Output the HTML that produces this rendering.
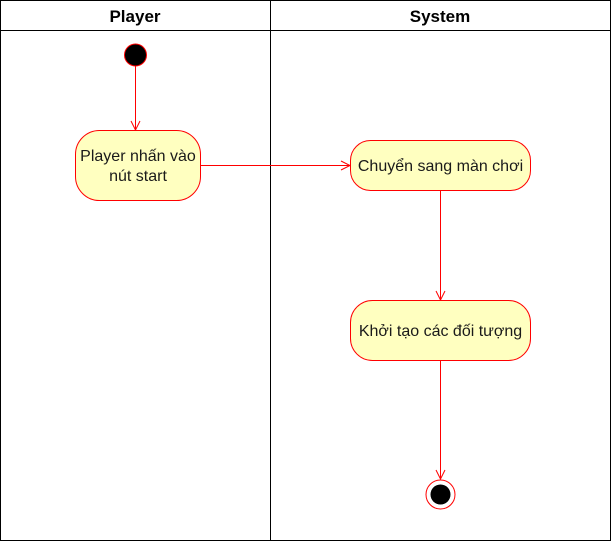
<!DOCTYPE html>
<html><head><style>body{margin:0;background:#fff}svg{display:block}</style></head><body>
<svg width="612" height="541" viewBox="0 0 612 541" font-family="Liberation Sans, sans-serif">
<rect x="0.5" y="0.5" width="610" height="540" fill="#fff" stroke="#000"/>
<line x1="0.5" y1="30.5" x2="610.5" y2="30.5" stroke="#000"/>
<line x1="270.5" y1="0" x2="270.5" y2="541" stroke="#000"/>
<text x="135" y="22" text-anchor="middle" font-size="17" font-weight="bold">Player</text>
<text x="440" y="22" text-anchor="middle" font-size="17" font-weight="bold">System</text>
<g stroke="#f00" fill="none">
<line x1="135.5" y1="66" x2="135.5" y2="129"/><polyline points="131,121 135.5,130 140,121"/>
<line x1="200" y1="165.5" x2="349" y2="165.5"/><polyline points="341,161 350,165.5 341,170"/>
<line x1="440.5" y1="190" x2="440.5" y2="299"/><polyline points="436,291 440.5,300 445,291"/>
<line x1="440.5" y1="360" x2="440.5" y2="478"/><polyline points="436,470 440.5,479 445,470"/>
</g>
<circle cx="135.5" cy="55" r="11" fill="#000" stroke="#f00"/>
<rect x="75.5" y="130.5" width="125" height="70" rx="24" fill="#ffffc0" stroke="#f00"/>
<rect x="350.5" y="140.5" width="180" height="50" rx="20" fill="#ffffc0" stroke="#f00"/>
<rect x="350.5" y="300.5" width="180" height="60" rx="22" fill="#ffffc0" stroke="#f00"/>
<circle cx="440.5" cy="494.5" r="14.5" fill="#fff" stroke="#f00"/>
<circle cx="440.5" cy="494.5" r="10" fill="#000"/>
<g font-size="16" text-anchor="middle" fill="#1a1a1a">
<text x="138" y="161">Player nhấn vào</text>
<text x="138" y="181">nút start</text>
<text x="440.5" y="171">Chuyển sang màn chơi</text>
<text x="440.5" y="336">Khởi tạo các đối tượng</text>
</g>
</svg>
</body></html>
